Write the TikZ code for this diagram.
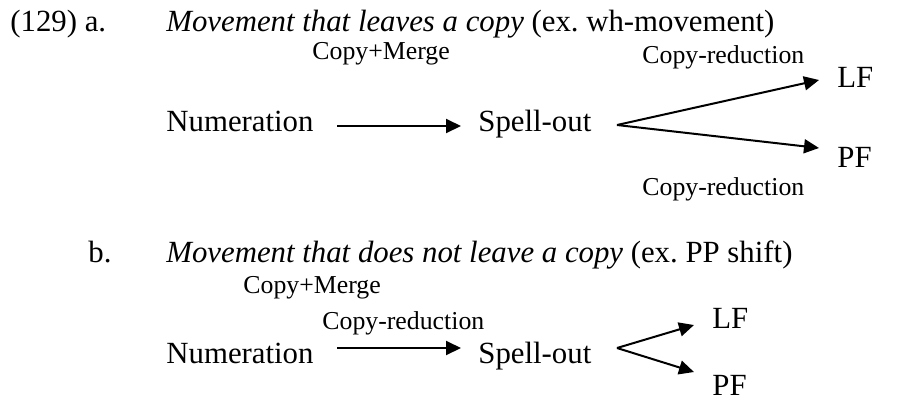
\documentclass[tikz,border=0pt]{standalone}
\usepackage{fontspec}
\setmainfont{Liberation Serif}
\usetikzlibrary{arrows.meta}
\begin{document}
\begin{tikzpicture}[x=0.5pt,y=-0.5pt,
  txt/.style={inner sep=0pt,anchor=base west,font=\fontsize{15.4}{18}\selectfont},
  lbl/.style={inner sep=0pt,anchor=base west,font=\fontsize{12.9}{15}\selectfont},
  arr/.style={line width=1pt,-{Triangle[length=7.5pt,width=7pt]}}]
\useasboundingbox (0,0) rectangle (901,403);
% (a)
\node[txt] (na) at (10,31) {(129) a.};
\node[txt] (ta) at (166,31) {\textit{Movement that leaves a copy} (ex.\ wh-movement)};
\node[lbl] (cma) at (312,59) {Copy+Merge};
\node[lbl] (cra) at (642,63) {Copy-reduction};
\node[txt] (numa) at (166,131) {Numeration};
\node[txt] (spa) at (478,131) {Spell-out};
\node[txt] (lfa) at (837,87) {LF};
\node[txt] (pfa) at (837,167) {PF};
\node[lbl] (crb) at (642,195) {Copy-reduction};
\coordinate (a0) at (337,126);
\coordinate (a1) at (461,126);
\coordinate (fa) at (617,125);
\coordinate (fla) at (819,80);
\coordinate (fpa) at (819,148);
\draw[arr] (a0) -- (a1);
\draw[arr] (fa) -- (fla);
\draw[arr] (fa) -- (fpa);
% (b)
\node[txt] (nb) at (88,262) {b.};
\node[txt] (tb) at (166,262) {\textit{Movement that does not leave a copy} (ex.\ PP shift)};
\node[lbl] (cmb) at (243,293) {Copy+Merge};
\node[lbl] (crc) at (322,329) {Copy-reduction};
\node[txt] (numb) at (166,363) {Numeration};
\node[txt] (spb) at (478,363) {Spell-out};
\node[txt] (lfb) at (712,328) {LF};
\node[txt] (pfb) at (712,395) {PF};
\coordinate (b0) at (337,348);
\coordinate (b1) at (461,348);
\coordinate (fb) at (617,348);
\coordinate (flb) at (694,325);
\coordinate (fpb) at (694,372);
\draw[arr] (b0) -- (b1);
\draw[arr] (fb) -- (flb);
\draw[arr] (fb) -- (fpb);
\end{tikzpicture}
\end{document}
